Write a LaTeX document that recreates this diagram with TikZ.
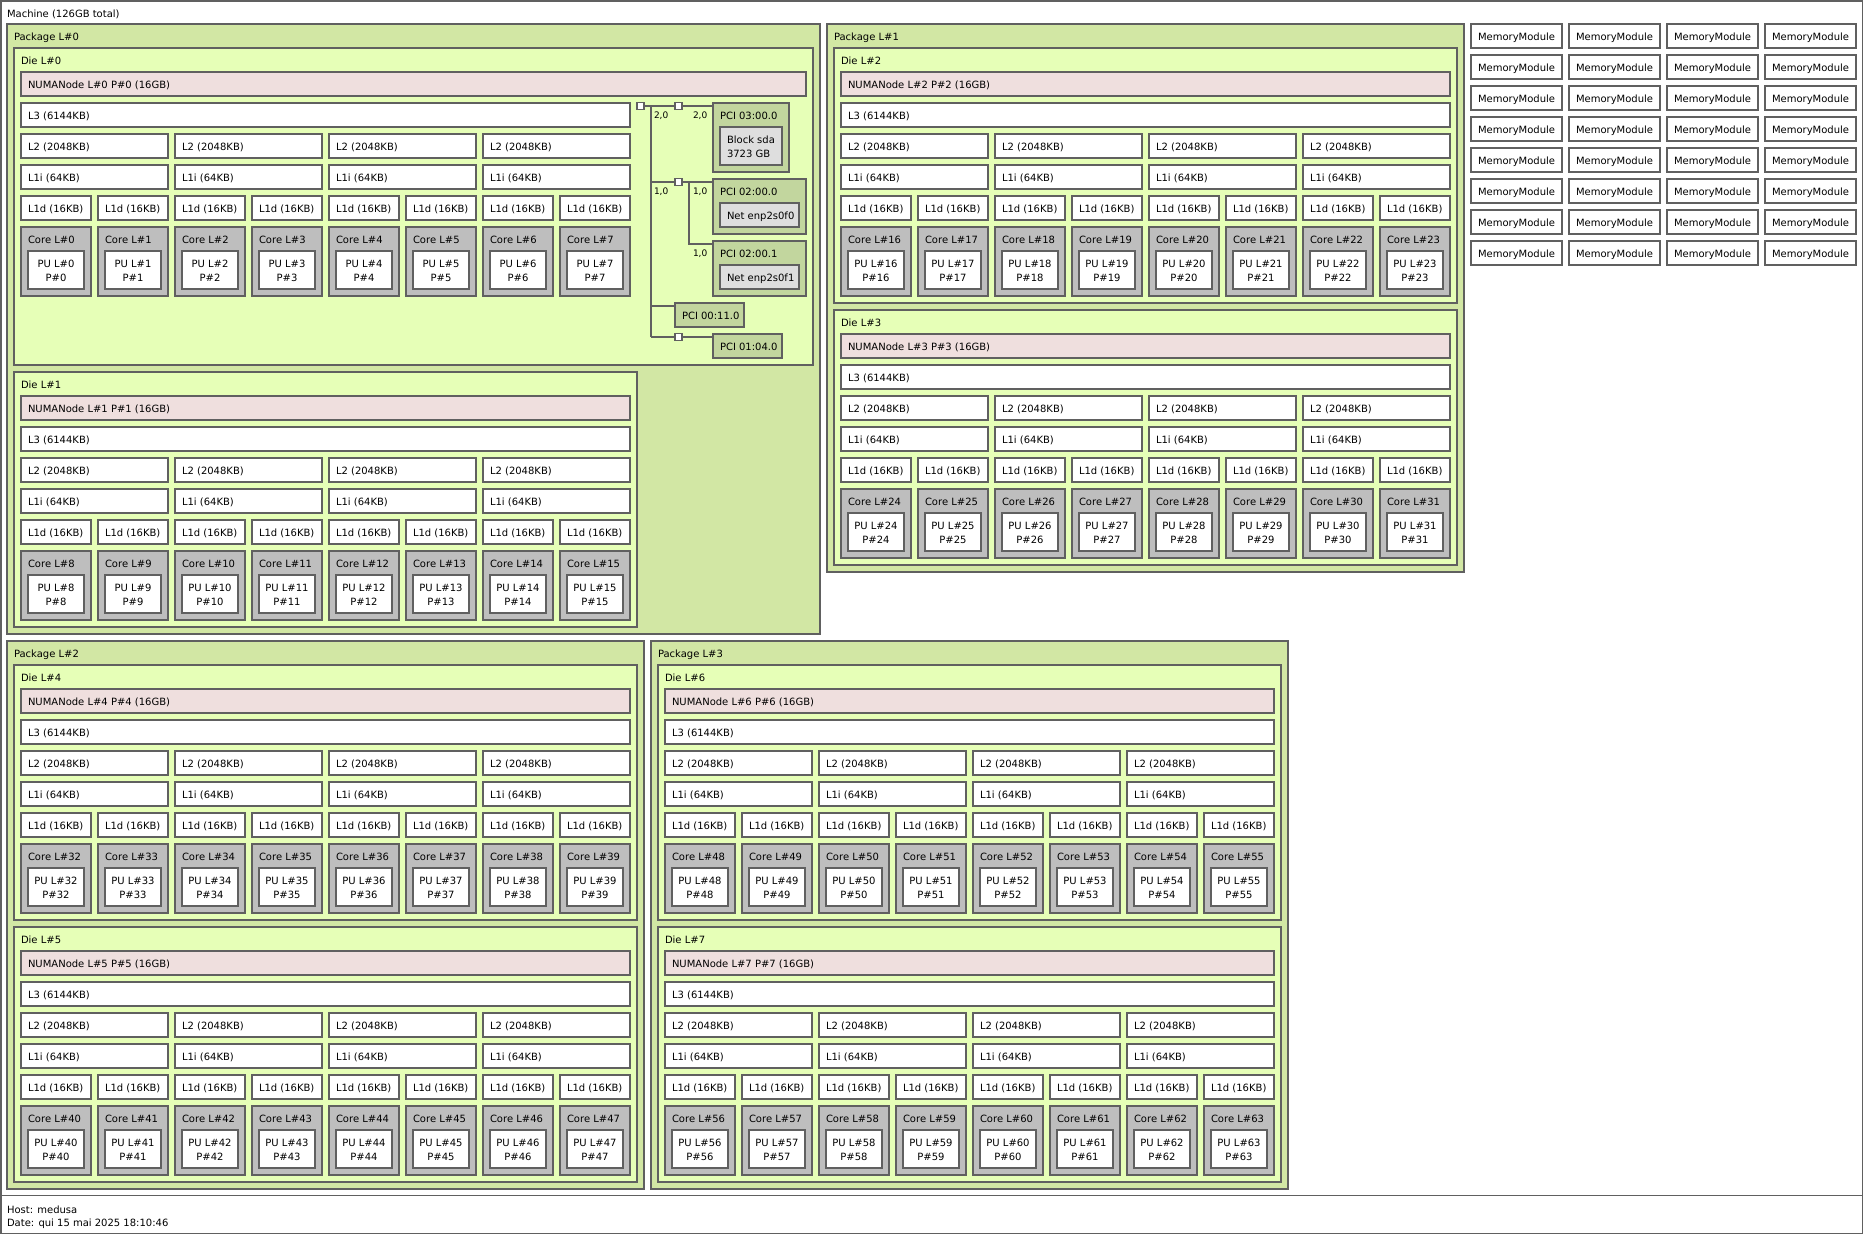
\documentclass[tikz,border=0pt]{standalone}
\usepackage{fontspec}
\setmainfont{DejaVu Sans}
\definecolor{bord}{RGB}{96,96,96}
\definecolor{pkgcol}{RGB}{210,231,164}
\definecolor{diecol}{RGB}{230,255,183}
\definecolor{numacol}{RGB}{239,223,222}
\definecolor{corecol}{RGB}{190,190,190}
\definecolor{pcicol}{RGB}{194,214,158}
\definecolor{oscol}{RGB}{222,222,222}
\tikzset{
  box/.style={draw=bord, line width=1.5pt, anchor=north west, inner sep=0pt, outer sep=0pt},
  lbl/.style={anchor=base west, inner sep=0pt, outer sep=0pt, font=\fontsize{10}{12}\selectfont},
  lblc/.style={anchor=base, inner sep=0pt, outer sep=0pt, font=\fontsize{10}{12}\selectfont},
  elbl/.style={anchor=base west, inner sep=0pt, outer sep=0pt, font=\fontsize{9}{11}\selectfont},
  link/.style={draw=bord, line width=1.5pt},
}
\newcommand\dieblock[7]{%
 \node[box,fill=diecol,minimum width=#6pt,minimum height=#7pt] (die#1) at (#2-7,#3) {};
 \node[lbl] (die#1-t) at (#2,#3+16.7) {Die L\##1};
 \node[box,fill=numacol,minimum width=#5pt,minimum height=24pt] (numa#1) at (#2,#3+24) {};
 \node[lbl] (numa#1-t) at (#2+7,#3+40.7) {NUMANode L\##1 P\##1 (16GB)};
 \node[box,fill=white,minimum width=609pt,minimum height=24pt] (lthree#1) at (#2,#3+55) {};
 \node[lbl] (lthree#1-t) at (#2+7,#3+71.7) {L3 (6144KB)};
 \foreach \i in {0,...,3}{%
  \node[box,fill=white,minimum width=147pt,minimum height=24pt] (ltwo#1-\i) at (#2+154*\i,#3+86) {};
  \node[lbl] (ltwo#1-\i-t) at (#2+154*\i+7,#3+102.7) {L2 (2048KB)};
  \node[box,fill=white,minimum width=147pt,minimum height=24pt] (lonei#1-\i) at (#2+154*\i,#3+117) {};
  \node[lbl] (lonei#1-\i-t) at (#2+154*\i+7,#3+133.7) {L1i (64KB)};
 }
 \foreach \j in {0,...,7}{%
  \pgfmathtruncatemacro\cnum{#4+\j}%
  \node[box,fill=white,minimum width=70pt,minimum height=24pt] (loned\cnum) at (#2+77*\j,#3+148) {};
  \node[lbl] (loned\cnum-t) at (#2+77*\j+7,#3+164.7) {L1d (16KB)};
  \node[box,fill=corecol,minimum width=70pt,minimum height=69pt] (core\cnum) at (#2+77*\j,#3+179) {};
  \node[lbl] (core\cnum-t) at (#2+77*\j+7,#3+195.7) {Core L\#\cnum};
  \node[box,fill=white,minimum width=56pt,minimum height=38pt] (pu\cnum) at (#2+77*\j+7,#3+203) {};
  \node[lblc] (pu\cnum-a) at (#2+77*\j+35,#3+219.7) {PU L\#\cnum};
  \node[lblc] (pu\cnum-b) at (#2+77*\j+35,#3+233.7) {P\#\cnum};
 }}
\begin{document}
\begin{tikzpicture}[x=1pt,y=-1pt]
\useasboundingbox (0,0) rectangle (1863,1234);
% machine
\node[box,fill=white,minimum width=1861.5pt,minimum height=1194.5pt] (machine) at (0.75,0.75) {};
\node[lbl] (machine-t) at (7,17) {Machine (126GB total)};
% packages
\node[box,fill=pkgcol,minimum width=813pt,minimum height=610pt] (pkg0) at (7,24) {};
\node[lbl] (pkg0-t) at (14,40.5) {Package L\#0};
\node[box,fill=pkgcol,minimum width=637pt,minimum height=548pt] (pkg1) at (827,24) {};
\node[lbl] (pkg1-t) at (834,40.5) {Package L\#1};
\node[box,fill=pkgcol,minimum width=637pt,minimum height=548pt] (pkg2) at (7,641) {};
\node[lbl] (pkg2-t) at (14,657.5) {Package L\#2};
\node[box,fill=pkgcol,minimum width=637pt,minimum height=548pt] (pkg3) at (651,641) {};
\node[lbl] (pkg3-t) at (658,657.5) {Package L\#3};
% dies
\dieblock{0}{21}{48}{0}{785}{799}{317}
\dieblock{1}{21}{372}{8}{609}{623}{255}
\dieblock{2}{841}{48}{16}{609}{623}{255}
\dieblock{3}{841}{310}{24}{609}{623}{255}
\dieblock{4}{21}{665}{32}{609}{623}{255}
\dieblock{5}{21}{927}{40}{609}{623}{255}
\dieblock{6}{665}{665}{48}{609}{623}{255}
\dieblock{7}{665}{927}{56}{609}{623}{255}
% PCI tree
\node[box,fill=pcicol,minimum width=76pt,minimum height=69pt] (pci30) at (713,103) {};
\node[lbl] (pci30-t) at (720,119.7) {PCI 03:00.0};
\node[box,fill=oscol,minimum width=62pt,minimum height=38pt] (sda) at (720,127) {};
\node[lbl] (sda-a) at (727,143.9) {Block sda};
\node[lbl] (sda-b) at (727,157.4) {3723 GB};
\node[box,fill=pcicol,minimum width=93pt,minimum height=55pt] (pci20) at (713,179) {};
\node[lbl] (pci20-t) at (720,195.7) {PCI 02:00.0};
\node[box,fill=oscol,minimum width=79pt,minimum height=24pt] (net0) at (720,203) {};
\node[lbl] (net0-t) at (727,219.7) {Net enp2s0f0};
\node[box,fill=pcicol,minimum width=93pt,minimum height=55pt] (pci21) at (713,241) {};
\node[lbl] (pci21-t) at (720,257.7) {PCI 02:00.1};
\node[box,fill=oscol,minimum width=79pt,minimum height=24pt] (net1) at (720,265) {};
\node[lbl] (net1-t) at (727,281.7) {Net enp2s0f1};
\node[box,fill=pcicol,minimum width=69pt,minimum height=24pt] (pci11) at (675,303) {};
\node[lbl] (pci11-t) at (682,319.7) {PCI 00:11.0};
\node[box,fill=pcicol,minimum width=69pt,minimum height=24pt] (pci14) at (713,334) {};
\node[lbl] (pci14-t) at (720,350.7) {PCI 01:04.0};
% bridges
\node[box,fill=white,minimum width=7pt,minimum height=7pt] (hb) at (637,102.5) {};
\node[box,fill=white,minimum width=7pt,minimum height=7pt] (b1) at (675,102.5) {};
\node[box,fill=white,minimum width=7pt,minimum height=7pt] (b2) at (675,178.5) {};
\node[box,fill=white,minimum width=7pt,minimum height=7pt] (b3) at (675,333.5) {};
\coordinate (trunk) at (651,106);
\coordinate (t2) at (689,182);
\coordinate (k21) at (713,244);
\coordinate (k11) at (675,306);
\draw[link] (hb.east) -- (b1.west);
\draw[link] (b1.east) -- (b1.east -| pci30.west);
\draw[link] (trunk) -- (trunk |- b3.west);
\draw[link] (trunk |- b2.west) -- (b2.west);
\draw[link] (b2.east) -- (b2.east -| pci20.west);
\draw[link] (t2) |- (k21);
\draw[link] (trunk |- k11) -- (k11);
\draw[link] (trunk |- b3.west) -- (b3.west);
\draw[link] (b3.east) -- (b3.east -| pci14.west);
\node[elbl] (e1) at (654,118.5) {2,0};
\node[elbl] (e2) at (693,118.5) {2,0};
\node[elbl] (e3) at (654,194) {1,0};
\node[elbl] (e4) at (693,194) {1,0};
\node[elbl] (e5) at (693,256.5) {1,0};
% memory modules
\foreach \i in {0,...,3}{
 \foreach \j in {0,...,7}{
  \node[box,fill=white,minimum width=91pt,minimum height=24pt] (mm\i-\j) at (1471+98*\i,24+31*\j) {};
  \node[lbl] (mm\i-\j-t) at (1478+98*\i,40.7+31*\j) {MemoryModule};
 }}
% legend
\node[box,fill=white,minimum width=1861.5pt,minimum height=38pt] (legend) at (0.75,1195.25) {};
\node[lbl] (host) at (7,1213) {Host: medusa};
\node[lbl] (date) at (7,1226.5) {Date: qui 15 mai 2025 18:10:46};
\end{tikzpicture}
\end{document}
